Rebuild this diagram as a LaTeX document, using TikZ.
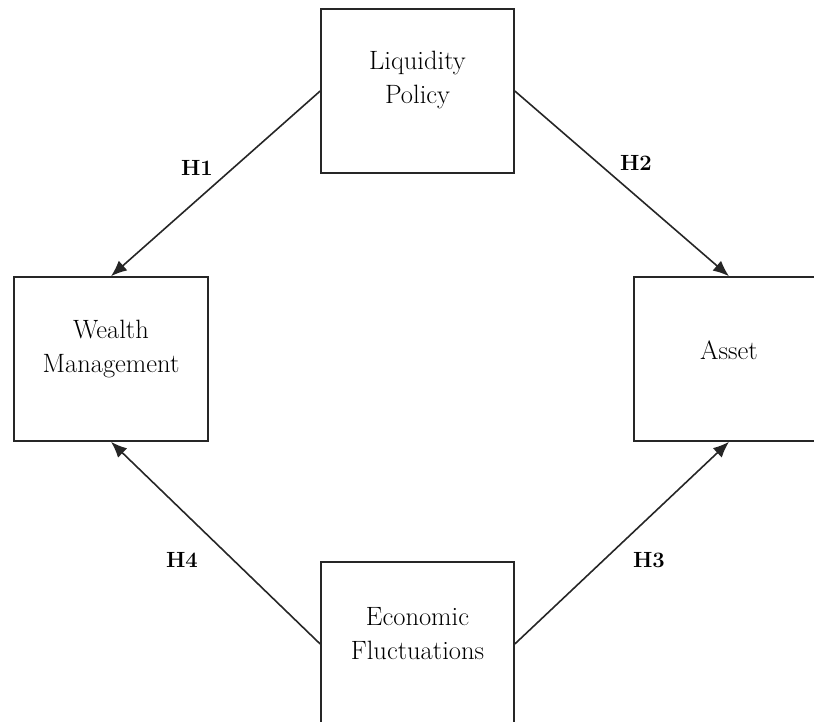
\documentclass[tikz,border=0pt]{standalone}
\usetikzlibrary{arrows.meta}
\begin{document}
\begin{tikzpicture}[x=1pt,y=-1pt,
  box/.style={draw=black!85,line width=1.6pt,minimum width=193pt,minimum height=164pt,inner sep=0pt},
  boxtext/.style={align=center,font=\fontsize{26.5}{34}\selectfont,text=black},
  hyp/.style={font=\fontsize{22}{26}\selectfont\bfseries,text=black},
  link/.style={draw=black!85,line width=1.6pt,-{Latex[length=16pt,width=13pt]}}]
  \useasboundingbox (0,0) rectangle (814,722);
  \clip (0,0) rectangle (814,722);
  % construct boxes
  \node[box] (lp) at (417.5,91) {};
  \node[box,minimum width=194pt] (wm) at (111,359) {};
  \node[box,minimum width=190pt] (as) at (729,359) {};
  \node[box] (ef) at (417.5,644) {};
  % box captions, set slightly above centre
  \node[boxtext] (lpt) at ([yshift=11pt]lp.center) {Liquidity\\Policy};
  \node[boxtext] (wmt) at ([yshift=10pt]wm.center) {Wealth\\Management};
  \node[boxtext] (ast) at ([yshift=9pt]as.center) {Asset};
  \node[boxtext] (eft) at ([yshift=10pt]ef.center) {Economic\\Fluctuations};
  % hypothesised paths
  \draw[link] (lp.west) -- (wm.north);
  \draw[link] (lp.east) -- (as.north);
  \draw[link] (ef.east) -- (as.south);
  \draw[link] (ef.west) -- (wm.south);
  % path labels
  \node[hyp] (h1) at (197,168) {H1};
  \node[hyp] (h2) at (636,163) {H2};
  \node[hyp] (h3) at (649,560) {H3};
  \node[hyp] (h4) at (182,560) {H4};
\end{tikzpicture}
\end{document}
